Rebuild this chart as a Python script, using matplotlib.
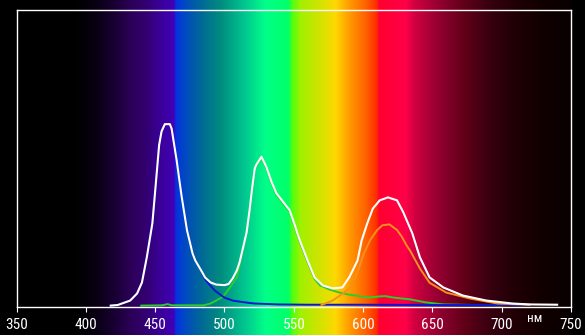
import numpy as np
import matplotlib
matplotlib.use("Agg")
import matplotlib.pyplot as plt
from matplotlib import font_manager
from matplotlib.colors import LinearSegmentedColormap

# ---------------------------------------------------------------------------
# Data (wavelength in nm, relative intensity 0..1 of the plot height)
# ---------------------------------------------------------------------------
WHITE_NM = [418, 423, 432, 437, 440.5, 444, 448, 449.9, 452.9, 454.6, 457,
            460.6, 461.9, 465.5, 469, 473, 477, 479, 484, 486, 490, 494, 500,
            503, 506, 509, 511, 513.5, 516, 518.3, 520, 521.9, 523, 526.7,
            530.3, 534, 537.5, 542.3, 547, 550.7, 553, 555, 560, 565, 571, 578,
            585, 590, 596, 599, 603, 607, 612, 618, 624.5, 629, 635.5, 641, 648,
            658, 672, 689, 708, 720, 740]
WHITE_VAL = [0.003, 0.005, 0.02, 0.044, 0.081, 0.166, 0.28, 0.382, 0.545, 0.59,
             0.615, 0.615, 0.60, 0.494, 0.375, 0.257, 0.179, 0.155, 0.115, 0.098,
             0.081, 0.074, 0.072, 0.076, 0.095, 0.122, 0.15, 0.2, 0.25, 0.331,
             0.40, 0.466, 0.478, 0.505, 0.47, 0.42, 0.382, 0.353, 0.325, 0.275,
             0.241, 0.215, 0.155, 0.098, 0.071, 0.061, 0.064, 0.098, 0.155,
             0.223, 0.28, 0.33, 0.358, 0.368, 0.358, 0.318, 0.247, 0.166, 0.098,
             0.064, 0.037, 0.02, 0.01, 0.007, 0.006]

BLUE_NM = [418, 423, 432, 437, 440.5, 444, 448, 449.9, 452.9, 454.6, 457,
           460.6, 461.9, 465.5, 469, 473, 477, 479, 484, 486, 490, 493, 497,
           500, 506, 510, 518, 522, 539, 560, 600, 650, 700, 720]
BLUE_VAL = [0.003, 0.005, 0.02, 0.044, 0.081, 0.166, 0.28, 0.382, 0.545, 0.59,
            0.615, 0.615, 0.60, 0.494, 0.375, 0.257, 0.179, 0.155, 0.112, 0.092,
            0.07, 0.054, 0.04, 0.03, 0.02, 0.017, 0.012, 0.01, 0.007, 0.006,
            0.006, 0.005, 0.005, 0.005]

GREEN_NM = [440, 455, 459, 462, 485, 490, 494, 498, 501, 504, 507, 509, 511,
            513.5, 516, 518.3, 520, 521.9, 523, 526.7, 530.3, 534, 537.5, 542.3,
            547, 550.7, 553, 555, 560, 565, 569, 576, 583, 590, 596, 603, 612,
            616, 622, 634, 645, 658, 680, 700]
GREEN_VAL = [0.003, 0.004, 0.008, 0.004, 0.004, 0.01, 0.02, 0.03, 0.045, 0.064,
             0.085, 0.098, 0.14, 0.195, 0.245, 0.326, 0.395, 0.461, 0.473, 0.5,
             0.465, 0.415, 0.377, 0.348, 0.32, 0.27, 0.236, 0.21, 0.15, 0.093,
             0.071, 0.057, 0.047, 0.04, 0.036, 0.03, 0.034, 0.035, 0.03, 0.024,
             0.014, 0.007, 0.005, 0.004]

RED_NM = [570, 578, 585.6, 590.6, 595.6, 600, 605, 610, 614, 619, 624.5, 628,
          631.5, 634, 641, 648, 660, 677, 697, 720]
RED_VAL = [0.005, 0.02, 0.044, 0.064, 0.11, 0.172, 0.223, 0.257, 0.274, 0.277,
           0.258, 0.235, 0.205, 0.188, 0.128, 0.08, 0.047, 0.027, 0.01, 0.006]

XTICKS = [350, 400, 450, 500, 550, 600, 650, 700, 750]
UNIT_LABEL = "нм"

# Background spectrum stops
GRAD_NM = [350, 392, 406.6, 421, 432, 442.6, 453, 462.8, 464.2, 468, 475,
           485.9, 496.7, 514.7, 529, 545.7, 548.6, 554.3, 572.3, 579.5, 590.3,
           601, 609, 611.2, 630, 637, 655, 673, 691, 709, 731, 750]
GRAD_COLORS = ["#000000", "#000000", "#080012", "#1a0035", "#2c0058", "#330070",
               "#3a0098", "#4200b5", "#0a2ce0", "#0040d0", "#0055b0", "#007090",
               "#008c80", "#00c890", "#00ff88", "#00ff68", "#50ff10", "#a0f000",
               "#e0e000", "#ffd800", "#ff9800", "#ff6400", "#ff3000", "#ff0030",
               "#ff0048", "#d00040", "#900030", "#600018", "#380010", "#200005",
               "#100000", "#080000"]

# ---------------------------------------------------------------------------
# Layout (pixel geometry of the 585x335 output)
# ---------------------------------------------------------------------------
W, H = 585, 335
X0, X1 = 16.5, 571.0      # pixel x of 350 nm and 750 nm
Y_TOP, Y_BOT = 10.0, 306.5
PX_PER_NM = (X1 - X0) / (XTICKS[-1] - XTICKS[0])

# narrow sans if one is around, else plain Liberation Sans
installed = {f.name for f in font_manager.fontManager.ttflist}
narrow = [n for n in ("Liberation Sans Narrow", "DejaVu Sans Condensed",
                      "Roboto Condensed") if n in installed]
plt.rcParams["font.family"] = narrow[:1] + ["Liberation Sans", "DejaVu Sans"]
label_size = 11 if narrow else 10

fig = plt.figure(figsize=(W / 100, H / 100), dpi=100)
fig.patch.set_facecolor("black")

# full-height spectrum strip behind everything
bg = fig.add_axes([0, 0, 1, 1])
bg.set_xlim(350 - X0 / PX_PER_NM, 350 + (W - X0) / PX_PER_NM)
bg.set_ylim(0, 1)
bg.axis("off")
bg.set_facecolor("black")
lo, hi = GRAD_NM[0], GRAD_NM[-1]
stops = [((n - lo) / (hi - lo), c) for n, c in zip(GRAD_NM, GRAD_COLORS)]
cmap = LinearSegmentedColormap.from_list("spectrum", stops, N=1024)
strip = np.linspace(lo, hi, 2000)[None, :]
bg.imshow(strip, cmap=cmap, aspect="auto", extent=[lo, hi, 0, 1],
          interpolation="bilinear", vmin=lo, vmax=hi)

ax = fig.add_axes([X0 / W, (H - Y_BOT) / H, (X1 - X0) / W, (Y_BOT - Y_TOP) / H])
ax.set_facecolor("none")
ax.set_xlim(XTICKS[0], XTICKS[-1])
ax.set_ylim(0, 1)

ax.plot(GREEN_NM, GREEN_VAL, color="#2ccc2c", lw=1.4, solid_joinstyle="round")
ax.plot(BLUE_NM, BLUE_VAL, color="#0a14d2", lw=1.4, solid_joinstyle="round")
ax.plot(RED_NM, RED_VAL, color="#f5901c", lw=1.4, solid_joinstyle="round")
ax.plot(WHITE_NM, WHITE_VAL, color="white", lw=1.5, solid_joinstyle="round")

for s in ax.spines.values():
    s.set_color("white")
    s.set_linewidth(1.0)

ax.set_xticks(XTICKS)
ax.set_xticklabels([str(t) for t in XTICKS])
ax.set_yticks([])
ax.tick_params(axis="x", colors="white", direction="out", length=3.5, width=0.8,
               pad=5, labelsize=label_size)

ax.text(350 + (535 - X0) / PX_PER_NM, -(318 - Y_BOT) / (Y_BOT - Y_TOP), UNIT_LABEL,
        color="white", fontsize=9.5, ha="center", va="center", clip_on=False)

fig.savefig("out.png", dpi=100, facecolor=fig.get_facecolor())
